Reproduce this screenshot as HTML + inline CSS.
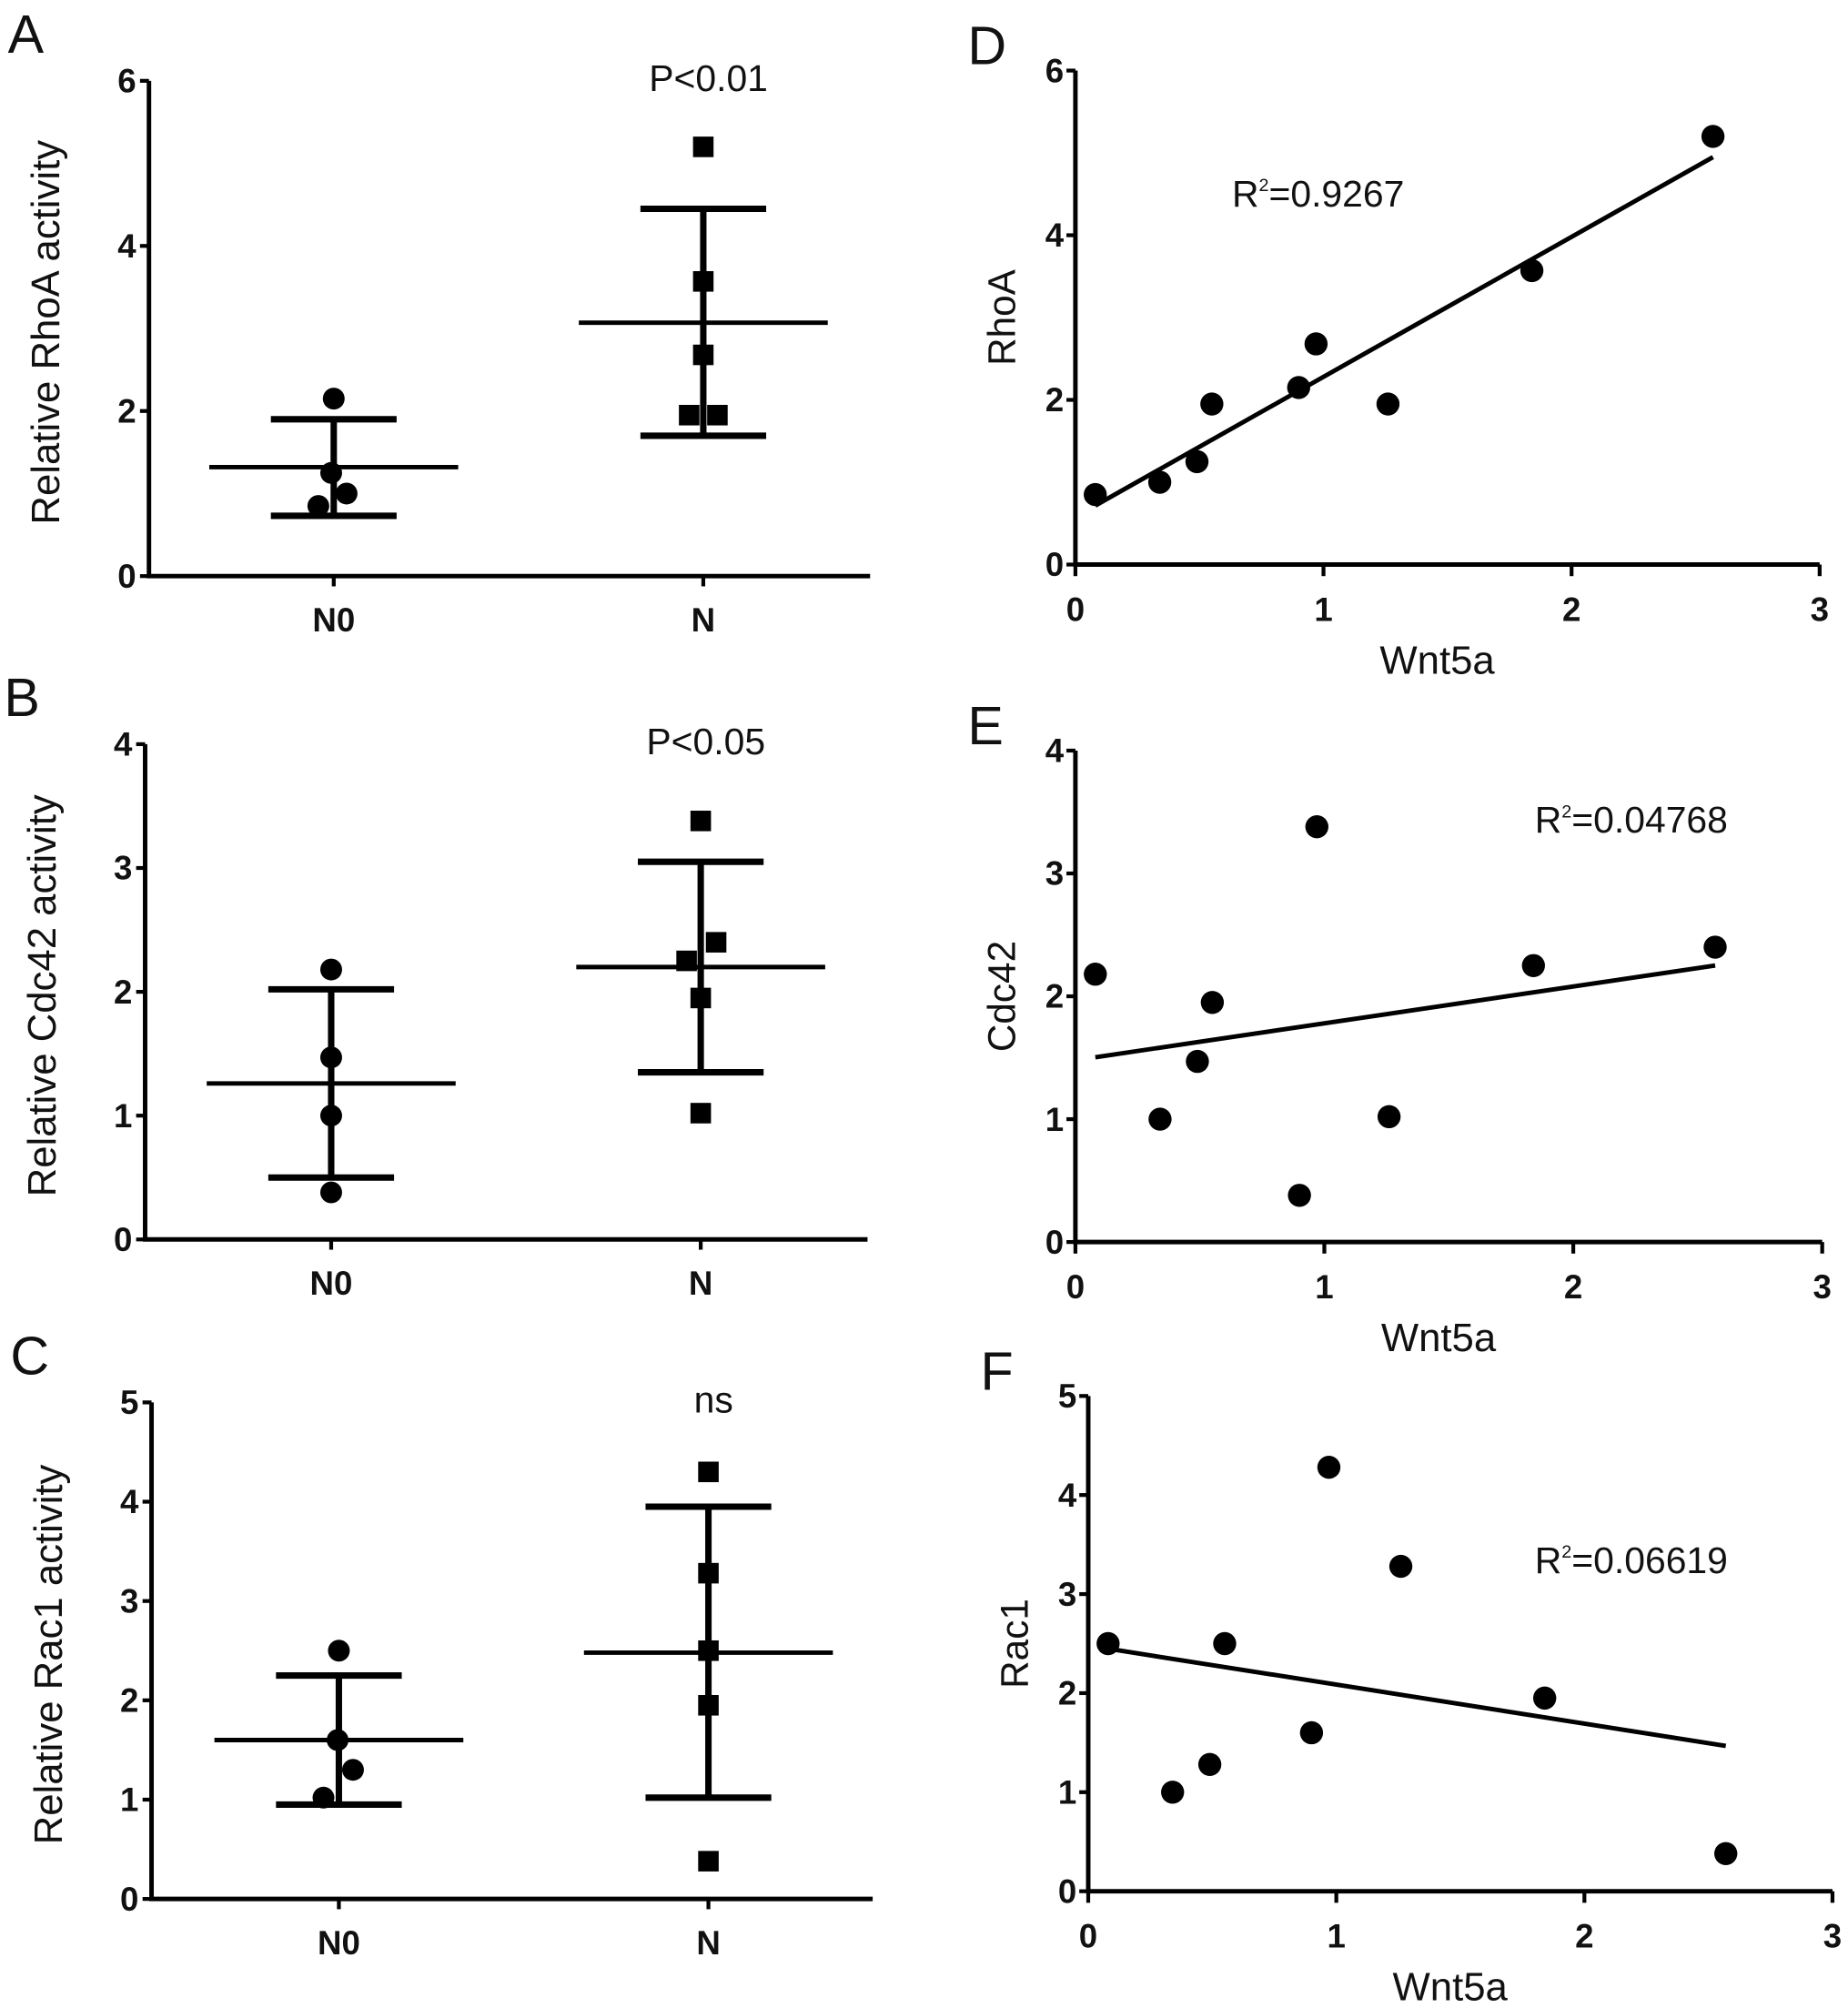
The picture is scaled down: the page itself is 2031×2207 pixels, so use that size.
<!DOCTYPE html>
<html><head><meta charset="utf-8"><style>
html,body{margin:0;padding:0;background:#fff}
svg{display:block}
text{font-family:"Liberation Sans",Arial,sans-serif;fill:#111}
</style></head><body>
<svg id="fig" width="2031" height="2207" viewBox="0 0 1440 1565" xmlns="http://www.w3.org/2000/svg"></svg>
<script>
// ---- data: panels A-C (group scatter) ----
const groupCats = ["N0","N"];
const rhoN0 = [2.15,1.25,1.0,0.85];
const rhoN = [5.2,3.57,2.68,1.95,1.95];
const rhoStats = [[1.32,1.9,0.73],[3.07,4.45,1.7]];
const cdcN0 = [2.18,1.47,1.0,0.38];
const cdcN = [3.38,2.4,2.25,1.95,1.02];
const cdcStats = [[1.26,2.02,0.5],[2.2,3.05,1.35]];
const racN0 = [2.5,1.6,1.3,1.02];
const racN = [4.3,3.28,2.5,1.95,0.38];
const racStats = [[1.6,2.25,0.95],[2.48,3.95,1.02]];
// ---- data: panels D-F (correlation) ----
const wnt5a = [0.08,0.34,0.49,0.55,0.9,0.97,1.26,1.84,2.57];
const rhoA = [0.85,1.0,1.25,1.95,2.15,2.68,1.95,3.57,5.2];
const cdc42 = [2.18,1.0,1.47,1.95,0.38,3.38,1.02,2.25,2.4];
const rac1 = [2.5,1.0,1.28,2.5,1.6,4.28,3.28,1.95,0.38];
const fitRho = [1.70,0.58];
const fitCdc = [0.30,1.48];
const fitRac = [-0.394,2.48];
const xTicks = [0,1,2,3];

const NS="http://www.w3.org/2000/svg";
const svg=document.getElementById('fig');
function mk(tag,attrs,parent){const e=document.createElementNS(NS,tag);for(const k in attrs)e.setAttribute(k,attrs[k]);(parent||svg).appendChild(e);return e;}
function txt(s,x,y,size,opts,parent){const t=mk('text',Object.assign({x:x,y:y,'font-size':size},opts||{}),parent);t.textContent=s;return t;}
const tickOpts=(anchor)=>({'text-anchor':anchor,'font-weight':'bold',transform:''});

function groupPanel(cfg){
  const g=mk('g',{});
  
  
  const ys=v=>cfg.y0-(cfg.y0-cfg.yTop)*v/cfg.ymax;
  const xs=[cfg.x1,cfg.x2];
  txt(cfg.letter,cfg.ax-110,cfg.yTop-22,42,{},g);
  mk('path',{d:`M${cfg.ax},${cfg.yTop} L${cfg.ax},${cfg.y0} L${cfg.xEnd},${cfg.y0}`,stroke:'#000','stroke-width':3.5,fill:'none'},g);
  for(let v=0;v<=cfg.ymax;v+=cfg.step){
    mk('line',{x1:cfg.ax-7,x2:cfg.ax,y1:ys(v),y2:ys(v),stroke:'#000','stroke-width':3},g);
    const t=txt(String(v),cfg.ax-10,ys(v)+9,26,{'text-anchor':'end','font-weight':'bold'},g);
    
  }
  groupCats.forEach((c,i)=>{
    mk('line',{x1:xs[i],x2:xs[i],y1:cfg.y0,y2:cfg.y0+8,stroke:'#000','stroke-width':3},g);
    const t=txt(c,xs[i],cfg.y0+43,26,{'text-anchor':'middle','font-weight':'bold'},g);
    
  });
  const yt=txt(cfg.ytitle,0,0,31,{'text-anchor':'middle',transform:`translate(${cfg.ax-70},${(cfg.yTop+cfg.y0)/2+3}) rotate(-90)`},g);
  
  const st=txt(cfg.sig,xs[1]+4,cfg.yTop+8,29,{'text-anchor':'middle'},g);
  
  cfg.stats.forEach((s,i)=>{
    const x=xs[i];
    mk('line',{x1:x-97,x2:x+97,y1:ys(s[0]),y2:ys(s[0]),stroke:'#000','stroke-width':3.5},g);
    mk('line',{x1:x,x2:x,y1:ys(s[1]),y2:ys(s[2]),stroke:'#000','stroke-width':5},g);
    mk('line',{x1:x-49,x2:x+49,y1:ys(s[1]),y2:ys(s[1]),stroke:'#000','stroke-width':5},g);
    mk('line',{x1:x-49,x2:x+49,y1:ys(s[2]),y2:ys(s[2]),stroke:'#000','stroke-width':5},g);
  });
  cfg.n0.forEach((v,i)=>{
    const c=mk('circle',{cx:xs[0]+cfg.n0off[i],cy:ys(v),r:8.5,fill:'#000'},g);
    
    
  });
  cfg.n.forEach((v,i)=>{
    const r=mk('rect',{x:xs[1]+cfg.noff[i]-8,y:ys(v)-8,width:16,height:16,fill:'#000'},g);
    
    
  });
}
groupPanel({name:'panel-a',letter:'A',ax:116,y0:449,yTop:63,ymax:6,step:2,xEnd:678,x1:260,x2:548,ytitle:'Relative RhoA activity',sig:'P<0.01',n0:rhoN0,n:rhoN,stats:rhoStats,n0off:[0,-2,10,-12],noff:[0,0,0,-11,11]});
groupPanel({name:'panel-b',letter:'B',ax:113,y0:966,yTop:580,ymax:4,step:1,xEnd:676,x1:258,x2:546,ytitle:'Relative Cdc42 activity',sig:'P<0.05',n0:cdcN0,n:cdcN,stats:cdcStats,n0off:[0,0,0,0],noff:[0,12,-11,0,0]});
groupPanel({name:'panel-c',letter:'C',ax:118,y0:1480,yTop:1093,ymax:5,step:1,xEnd:680,x1:264,x2:552,ytitle:'Relative Rac1 activity',sig:'ns',n0:racN0,n:racN,stats:racStats,n0off:[0,-1,11,-12],noff:[0,0,0,0,0]});

function corrPanel(cfg){
  const g=mk('g',{});
  
  
  const ys=v=>cfg.y0-(cfg.y0-cfg.yTop)*v/cfg.ymax;
  const xsc=v=>cfg.ax+(cfg.x3-cfg.ax)*v/3;
  txt(cfg.letter,cfg.ax-84,cfg.yTop-5,42,{},g);
  mk('path',{d:`M${cfg.ax},${cfg.yTop} L${cfg.ax},${cfg.y0} L${cfg.x3},${cfg.y0}`,stroke:'#000','stroke-width':3.5,fill:'none'},g);
  for(let v=0;v<=cfg.ymax;v+=cfg.step){
    mk('line',{x1:cfg.ax-7,x2:cfg.ax,y1:ys(v),y2:ys(v),stroke:'#000','stroke-width':3},g);
    txt(String(v),cfg.ax-9,ys(v)+9,26,{'text-anchor':'end','font-weight':'bold'},g);
  }
  xTicks.forEach(v=>{
    mk('line',{x1:xsc(v),x2:xsc(v),y1:cfg.y0,y2:cfg.y0+9,stroke:'#000','stroke-width':3},g);
    txt(String(v),xsc(v),cfg.y0+44,26,{'text-anchor':'middle','font-weight':'bold'},g);
  });
  txt('Wnt5a',(cfg.ax+cfg.x3)/2-8,cfg.y0+85,31,{'text-anchor':'middle'},g);
  txt(cfg.ytitle,0,0,30,{'text-anchor':'middle',transform:`translate(${cfg.ax-47},${(cfg.yTop+cfg.y0)/2}) rotate(-90)`},g);
  const x0=wnt5a[0],x1=wnt5a[wnt5a.length-1];
  mk('line',{x1:xsc(x0),y1:ys(cfg.fit[0]*x0+cfg.fit[1]),x2:xsc(x1),y2:ys(cfg.fit[0]*x1+cfg.fit[1]),stroke:'#000','stroke-width':3.5},g);
  wnt5a.forEach((xv,i)=>{
    const c=mk('circle',{cx:xsc(xv),cy:ys(cfg.vals[i]),r:9,fill:'#000'},g);
    
    
  });
  const t=txt('',cfg.rx,cfg.ry,29,{},g);
  
  const a=document.createElementNS(NS,'tspan');a.textContent='R';t.appendChild(a);
  const b=document.createElementNS(NS,'tspan');b.setAttribute('font-size','14');b.setAttribute('dy','-12');b.textContent='2';t.appendChild(b);
  const c2=document.createElementNS(NS,'tspan');c2.setAttribute('dy','12');c2.textContent=cfg.r2;t.appendChild(c2);
}
corrPanel({name:'panel-d',letter:'D',ax:838,y0:440,yTop:55,ymax:6,step:2,x3:1418,ytitle:'RhoA',vals:rhoA,fit:fitRho,rx:960,ry:161,r2:'=0.9267'});
corrPanel({name:'panel-e',letter:'E',ax:838,y0:968,yTop:585,ymax:4,step:1,x3:1420,ytitle:'Cdc42',vals:cdc42,fit:fitCdc,rx:1196,ry:649,r2:'=0.04768'});
corrPanel({name:'panel-f',letter:'F',ax:848,y0:1474,yTop:1088,ymax:5,step:1,x3:1428,ytitle:'Rac1',vals:rac1,fit:fitRac,rx:1196,ry:1226,r2:'=0.06619'});
</script>
</body></html>
